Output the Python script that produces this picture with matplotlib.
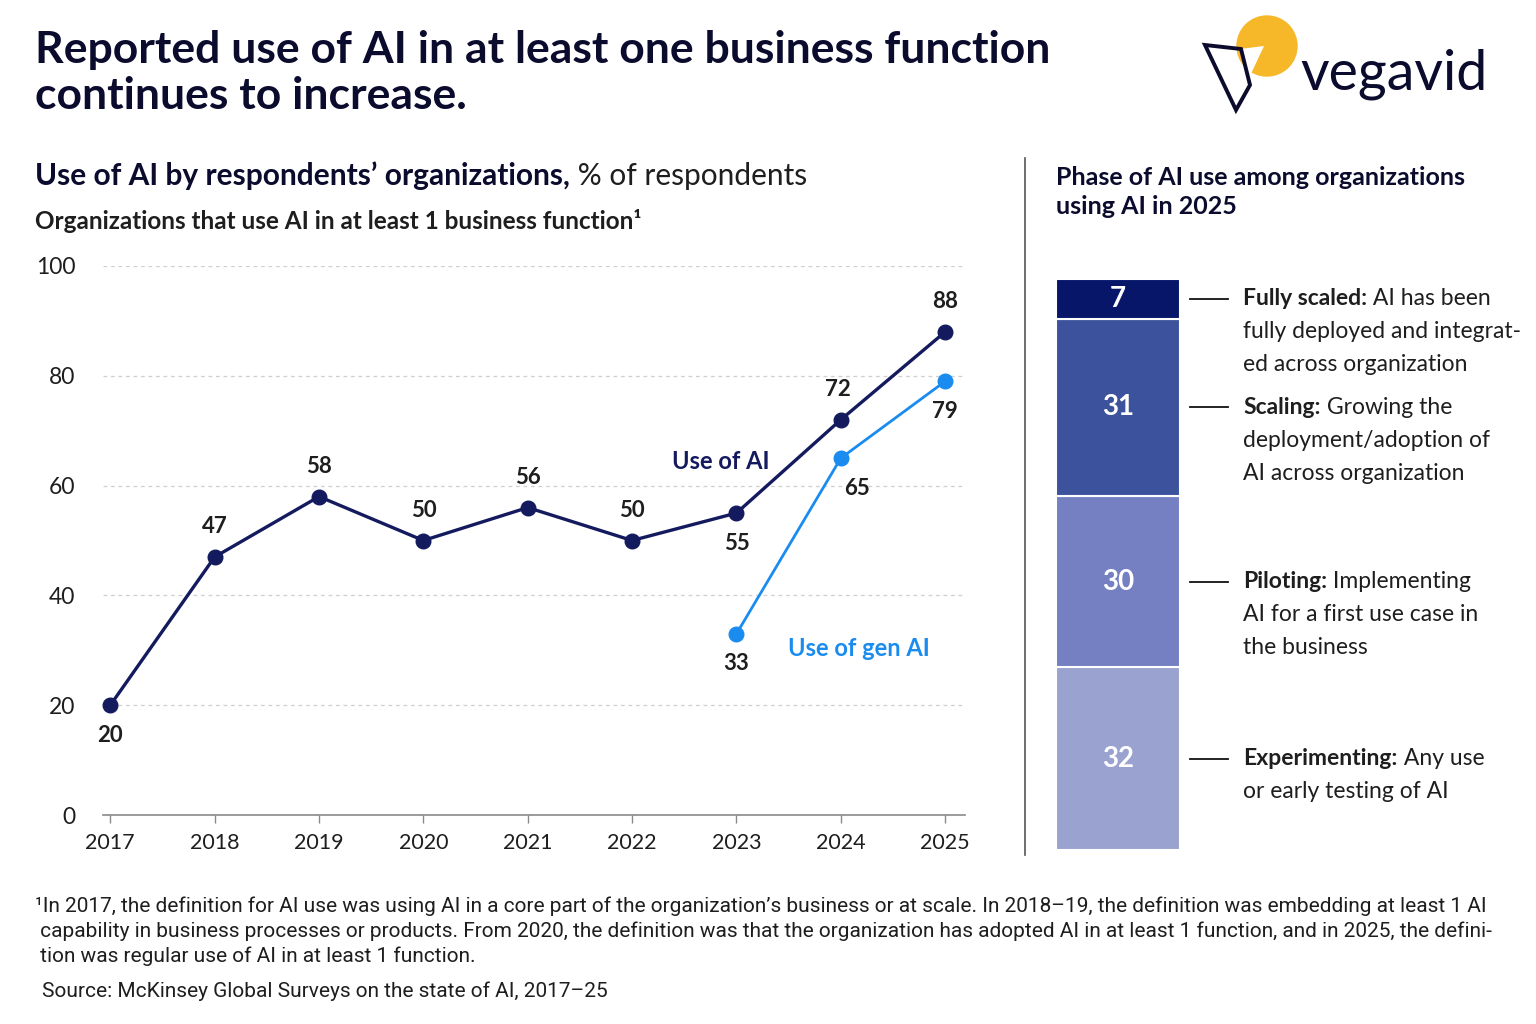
import matplotlib.pyplot as plt
from matplotlib.patches import Circle, Polygon

# ---- data ----
YEARS = [2017, 2018, 2019, 2020, 2021, 2022, 2023, 2024, 2025]
AI_USE = [20, 47, 58, 50, 56, 50, 55, 72, 88]
GEN_YEARS = [2023, 2024, 2025]
GEN_AI_USE = [33, 65, 79]
AI_LABEL_POS = ["below", "above", "above", "above", "above", "above", "below", "above", "above"]
GEN_LABEL_POS = ["below", "below", "below"]

PHASES = ["Experimenting", "Piloting", "Scaling", "Fully scaled"]   # bottom -> top
PHASE_PCT = [32, 30, 31, 7]
PHASE_DESC = [
    ["Any use", "or early testing of AI"],
    ["Implementing", "AI for a first use case in", "the business"],
    ["Growing the", "deployment/adoption of", "AI across organization"],
    ["AI has been", "fully deployed and integrat-", "ed across organization"],
]

TITLE = "Reported use of AI in at least one business function\ncontinues to increase."
FOOTNOTE = [
    "\u00b9In 2017, the definition for AI use was using AI in a core part of the organization\u2019s business or at scale. "
    "In 2018\u201319, the definition was embedding at least 1 AI",
    " capability in business processes or products. From 2020, the definition was that the organization has adopted "
    "AI in at least 1 function, and in 2025, the defini-",
    " tion was regular use of AI in at least 1 function.",
]
SOURCE = "Source: McKinsey Global Surveys on the state of AI, 2017\u201325"

# ---- style ----
NAVY = "#141a5e"
BLUE = "#1a8cf0"
INK = "#0b0b2e"
TEXT = "#1e1e1e"
PHASE_COLORS = ["#9aa2d0", "#7480c2", "#3d529c", "#08166a"]
FONT = "Lato"
NARROW = ["Liberation Sans Narrow", "Roboto"]

plt.rcParams["font.family"] = [FONT, "DejaVu Sans"]

W, H = 1536, 1024
fig = plt.figure(figsize=(W / 100, H / 100), dpi=100)
fig.patch.set_facecolor("white")

# overlay in pixel coords for titles, footnote, logo
ov = fig.add_axes([0, 0, 1, 1])
ov.set_xlim(0, W)
ov.set_ylim(H, 0)
ov.axis("off")

ov.text(35, 73, TITLE, fontsize=32, fontweight="bold", color=INK, va="center",
        linespacing=1.2)

sub = ov.text(35, 176, "Use of AI by respondents\u2019 organizations,", fontsize=21.5,
              fontweight="bold", color=INK, va="center")
ov.annotate(" % of respondents", xy=(1, 0), xycoords=sub, va="bottom", ha="left",
            fontsize=21.5, color=TEXT)
ov.text(35, 221, "Organizations that use AI in at least 1 business function\u00b9",
        fontsize=17.5, fontweight="bold", color=TEXT, va="center")

ov.text(1056, 192, "Phase of AI use among organizations\nusing AI in 2025", fontsize=18,
        fontweight="bold", color=INK, va="center", linespacing=1.35)

# divider
ov.plot([1025, 1025], [158, 855], color="#555555", lw=1.2)

# footnote + source
for i, line in enumerate(FOOTNOTE):
    ov.text(35, 906 + 25 * i, line, fontsize=15, color=TEXT, va="center", family=NARROW)
ov.text(42, 991, SOURCE, fontsize=15, color=TEXT, va="center", family=NARROW)

# logo
ov.add_patch(Circle((1267, 46), 30, color="#f6b728", zorder=2))
ov.add_patch(Polygon([(1240, 49), (1264, 46), (1250, 76)], closed=True,
                     facecolor="white", edgecolor="none", zorder=3))
ov.add_patch(Polygon([(1205, 45), (1241, 49), (1250, 85), (1236, 110)], closed=True,
                     facecolor="none", edgecolor=INK, lw=2.8, joinstyle="miter", zorder=4))
ov.text(1300, 74, "vegavid", fontsize=40, color=INK, va="center", ha="left")

# ---- line chart ----
ax = fig.add_axes([103 / W, 1 - 815 / H, (965 - 103) / W, (815 - 266) / H])
ax.set_xlim(2016.93, 2025.19)
ax.set_ylim(0, 100)
for s in ["top", "right", "left"]:
    ax.spines[s].set_visible(False)
ax.spines["bottom"].set_color("#8a8a8a")
ax.spines["bottom"].set_linewidth(1.2)
for yv in [20, 40, 60, 80, 100]:
    ax.axhline(yv, color="#cfcfcf", lw=0.9, dashes=(3, 3), zorder=0)
ax.set_xticks(YEARS)
ax.set_xticklabels([str(y) for y in YEARS], fontsize=15.5, color=TEXT)
ax.set_yticks([0, 20, 40, 60, 80, 100])
ax.set_yticklabels(["0", "20", "40", "60", "80", "100"], fontsize=16.5, color=TEXT)
ax.tick_params(axis="x", length=6, width=1, color="#8a8a8a", pad=7)
ax.tick_params(axis="y", length=0, pad=20)

ax.plot(YEARS, AI_USE, color=NAVY, lw=2.4, marker="o", markersize=10.5, zorder=3,
        clip_on=False)
ax.plot(GEN_YEARS, GEN_AI_USE, color=BLUE, lw=2.0, marker="o", markersize=10.5, zorder=3,
        clip_on=False)


def label_points(xs, ys, where, dx=None):
    for i, (x, y, w) in enumerate(zip(xs, ys, where)):
        off = 30 if w == "above" else -30
        ox = dx[i] if dx else 0
        ax.annotate(str(y), xy=(x, y), xytext=(ox, off), textcoords="offset pixels",
                    ha="center", va="center", fontsize=16, fontweight="bold",
                    color=TEXT, annotation_clip=False)


label_points(YEARS, AI_USE, AI_LABEL_POS, dx=[0, 0, 0, 0, 0, 0, 0, -3, 0])
label_points(GEN_YEARS, GEN_AI_USE, GEN_LABEL_POS, dx=[0, 16, 0])

ax.text(2023 + 0.32, 64.3, "Use of AI", fontsize=17, fontweight="bold", color=NAVY,
        ha="right", va="center")
ax.text(2023 + 0.49, 30.4, "Use of gen AI", fontsize=17, fontweight="bold", color=BLUE,
        ha="left", va="center")

# ---- stacked bar ----
bx = fig.add_axes([1056 / W, 1 - 850 / H, 124 / W, 571 / H])
bx.set_xlim(0, 1)
bx.set_ylim(0, 100)
bx.axis("off")
bottom = 0
for name, pct, col, desc in zip(PHASES, PHASE_PCT, PHASE_COLORS, PHASE_DESC):
    bx.bar(0.5, pct, width=1.0, bottom=bottom, color=col, edgecolor="white", lw=1.5)
    yc = bottom + pct / 2
    bx.text(0.5, yc, str(pct), color="white", fontsize=20, fontweight="bold",
            ha="center", va="center")
    bx.plot([1.08, 1.39], [yc, yc], color="#111111", lw=1.3, clip_on=False)
    head = bx.annotate(name + ":", xy=(1.51, yc), va="center", ha="left", fontsize=16.5,
                       fontweight="bold", color=TEXT, annotation_clip=False)
    bx.annotate(" " + desc[0], xy=(1, 0), xycoords=head, va="bottom", ha="left",
                fontsize=16.5, color=TEXT, annotation_clip=False)
    for j, line in enumerate(desc[1:], start=1):
        bx.annotate(line, xy=(1.51, yc), xytext=(0, -33 * j), textcoords="offset pixels",
                    va="center", ha="left", fontsize=16.5, color=TEXT, annotation_clip=False)
    bottom += pct

fig.savefig("out.png", dpi=100)
